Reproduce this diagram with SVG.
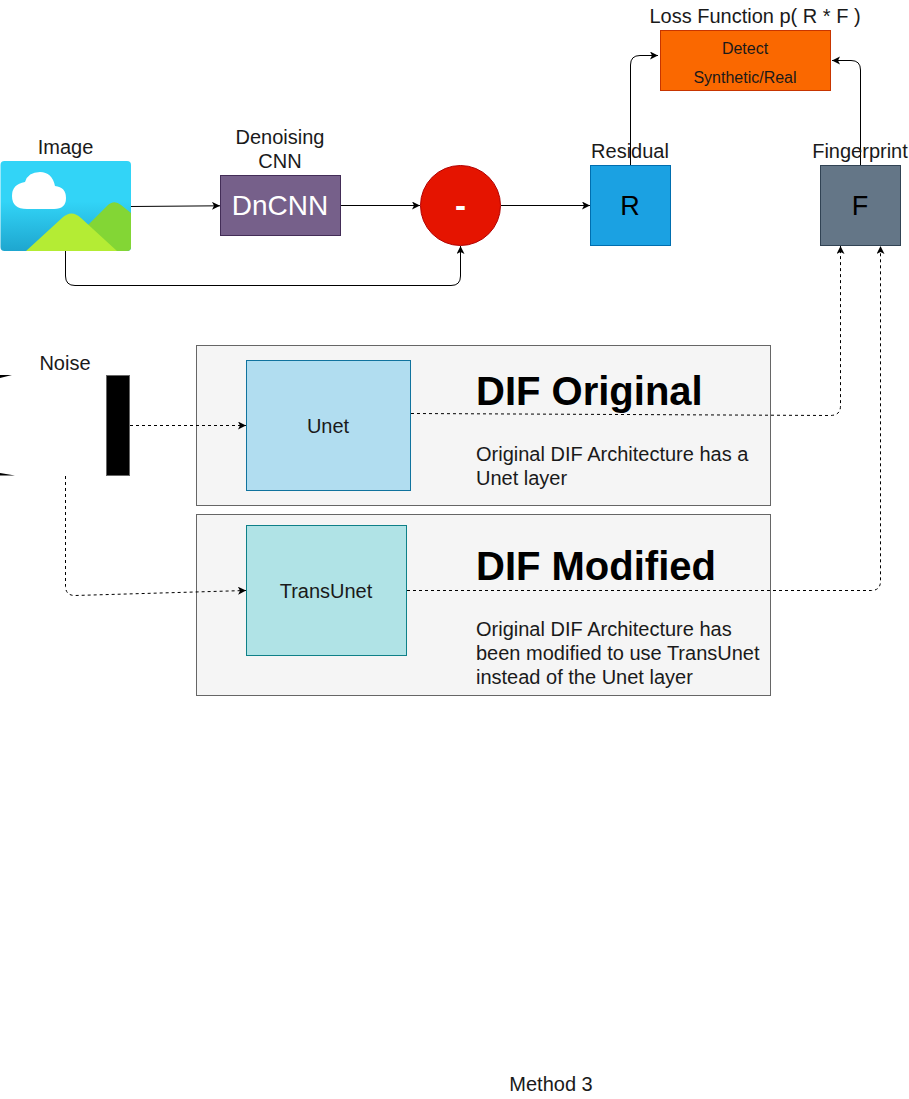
<svg xmlns="http://www.w3.org/2000/svg" width="909" height="1099" viewBox="0 0 909 1099">
<style>
text{font-family:"Liberation Sans",Arial,sans-serif;fill:#1a1a1a;text-anchor:middle}
.l{font-size:20px;text-anchor:start;fill:#1a1a1a}
.h{font-size:40px;font-weight:bold;text-anchor:start;fill:#000}
.s{font-size:20px}
.c{fill:none;stroke:#000;stroke-width:1}
.d{stroke-dasharray:3 3}
.p{fill:#f5f5f5;stroke:#666}
</style>
<defs>
<marker id="a" markerWidth="10" markerHeight="10" refX="8" refY="4" orient="auto" markerUnits="userSpaceOnUse"><path d="M0 0L8 4L0 8L2 4Z" fill="#000"/></marker>
<linearGradient id="sky" x1="0" y1="0" x2="0" y2="1"><stop offset="0" stop-color="#32d4f7"/><stop offset=".45" stop-color="#32d4f7"/><stop offset="1" stop-color="#1ea6cf"/></linearGradient>
</defs>
<g id="panel-original"><rect class="p" x="196.500" y="345.500" width="574" height="160"/></g>
<g id="panel-modified"><rect class="p" x="196.500" y="514.500" width="574" height="181"/></g>
<g id="connectors">
<path class="c" d="M131 206.500L220 205.800" marker-end="url(#a)"/>
<path class="c" d="M341 205.500H420" marker-end="url(#a)"/>
<path class="c" d="M501 205.500H590" marker-end="url(#a)"/>
<path class="c" d="M65.500 251V276Q65.500 285.500 75 285.500H451Q460.500 285.500 460.500 276V246" marker-end="url(#a)"/>
<path class="c" d="M630.500 165V65Q630.500 55.500 640 55.500H658" marker-end="url(#a)"/>
<path class="c" d="M860.500 165V70Q860.500 60.500 851 60.500H832" marker-end="url(#a)"/>
<path class="c d" d="M130 425.500H246" marker-end="url(#a)"/>
<path class="c d" d="M65.500 476V586Q65.500 595.500 75 595.500L246 590.500" marker-end="url(#a)"/>
<path class="c d" d="M411 413.500L830 415.500Q840.500 415.500 840.500 406V246" marker-end="url(#a)"/>
<path class="c d" d="M407 590.500H871Q880.500 590.500 880.500 581V246" marker-end="url(#a)"/>
</g>
<g id="image">
<rect x="0.500" y="161" width="130.500" height="90" rx="4" fill="url(#sky)"/>
<path d="M87 226L107 206Q114 199 121 205L131 213V247Q131 251 127 251H116Z" fill="#83d635"/>
<path d="M26 251L62 218Q71.500 209 81 218L117 251Z" fill="#b4ec34"/>
<path d="M27 209Q12 209 12 196Q12 184 25 182Q28 172 40 172Q52 172 55 186Q66 187 66 198Q66 209 54 209Z" fill="#fff"/>
<text class="s" x="65.500" y="154">Image</text>
</g>
<g id="dncnn">
<rect x="220.500" y="175.500" width="120" height="60" fill="#76608a" stroke="#432d57"/>
<text x="280" y="215" font-size="28" style="fill:#fff">DnCNN</text>
<text class="s" x="280" y="144">Denoising</text>
<text class="s" x="280" y="168">CNN</text>
</g>
<g id="subtract">
<circle cx="460.500" cy="205.500" r="40" fill="#e51400" stroke="#b20000"/>
<text x="460.500" y="217" font-size="33" font-weight="bold" style="fill:#fff">-</text>
</g>
<g id="residual">
<rect x="590.500" y="165.500" width="80" height="80" fill="#1ba1e2" stroke="#006eaf"/>
<text x="630" y="215" font-size="27" style="fill:#000">R</text>
<text class="s" x="630" y="158">Residual</text>
</g>
<g id="fingerprint">
<rect x="820.500" y="165.500" width="80" height="80" fill="#647687" stroke="#314354"/>
<text x="860" y="215" font-size="27" style="fill:#000">F</text>
<text class="s" x="860" y="158">Fingerprint</text>
</g>
<g id="loss">
<rect x="660.500" y="30.500" width="170" height="60" fill="#fa6800" stroke="#c73500"/>
<text x="745" y="54" font-size="16">Detect</text>
<text x="745" y="83" font-size="16">Synthetic/Real</text>
<text class="s" x="755" y="23">Loss Function p( R * F )</text>
</g>
<g id="noise">
<text class="s" x="65" y="370">Noise</text>
<rect x="106.500" y="375.500" width="23" height="100" fill="#000" stroke="#666"/>
<path d="M0 378L12 375H0ZM0 473L15 475.500H0Z" fill="#000"/>
</g>
<g id="unet">
<rect x="246.500" y="360.500" width="164" height="130" fill="#b1ddf0" stroke="#10739e"/>
<text class="s" x="328" y="433">Unet</text>
</g>
<g id="transunet">
<rect x="246.500" y="525.500" width="160" height="130" fill="#b0e3e6" stroke="#0e8088"/>
<text class="s" x="326" y="598">TransUnet</text>
</g>
<g id="dif-original-text">
<text class="h" x="476" y="405">DIF Original</text>
<text class="l" x="476" y="461">Original DIF Architecture has a</text>
<text class="l" x="476" y="485">Unet layer</text>
</g>
<g id="dif-modified-text">
<text class="h" x="476" y="580">DIF Modified</text>
<text class="l" x="476" y="636">Original DIF Architecture has</text>
<text class="l" x="476" y="660">been modified to use TransUnet</text>
<text class="l" x="476" y="684">instead of the Unet layer</text>
</g>
<g id="caption"><text class="s" x="551" y="1091">Method 3</text></g>
</svg>
